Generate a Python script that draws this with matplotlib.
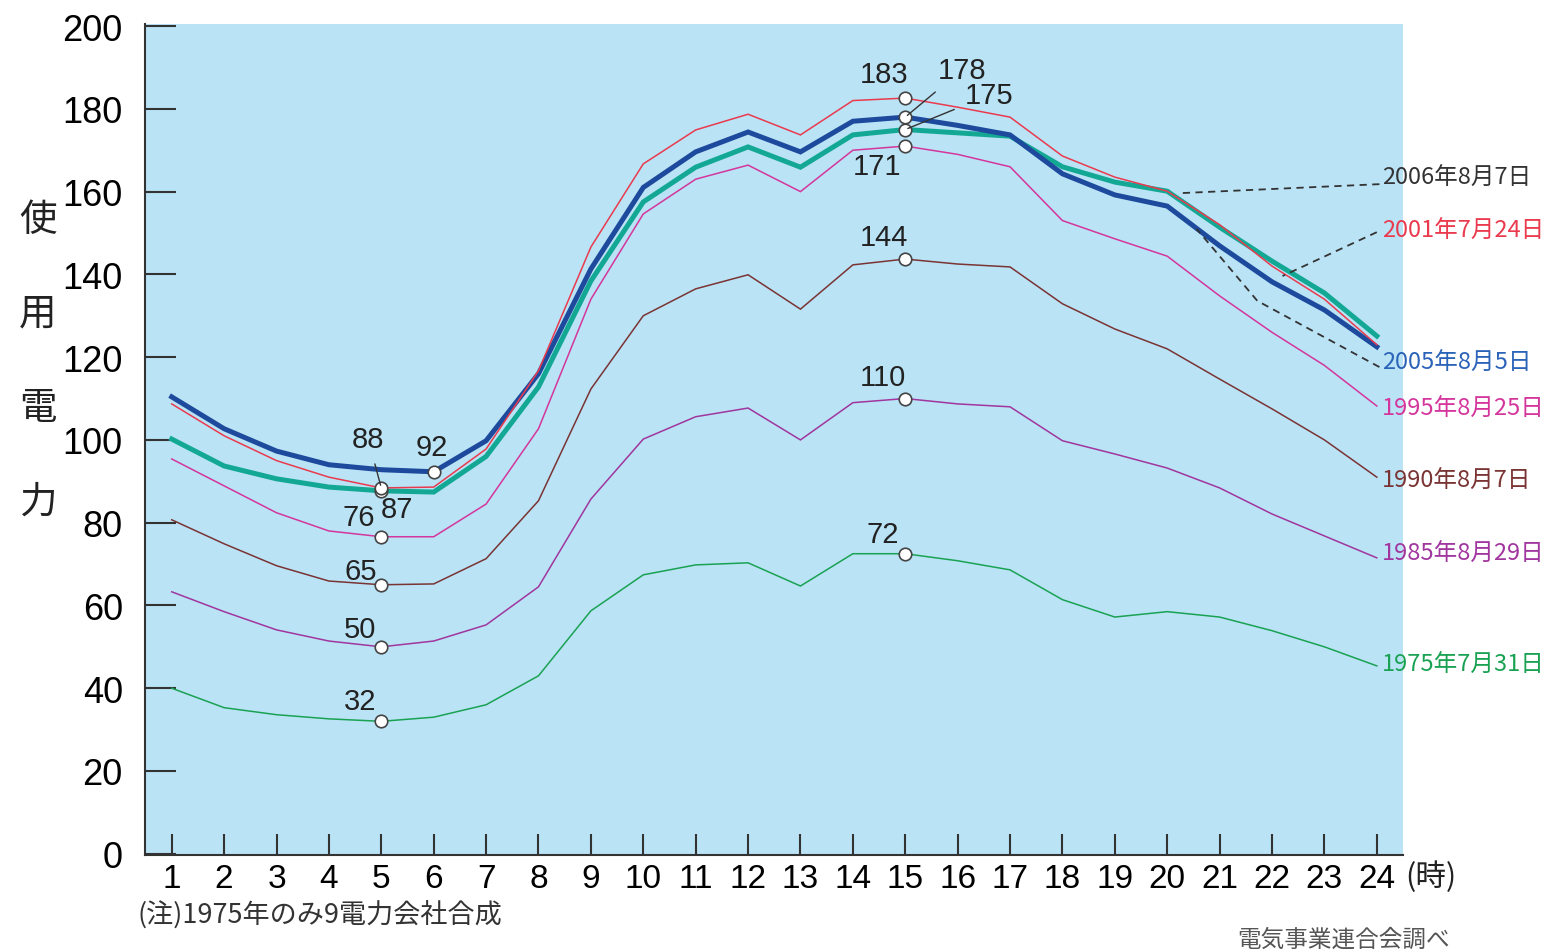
import matplotlib.pyplot as plt

plt.rcParams['font.family'] = ['Liberation Sans', 'Noto Sans CJK JP']

hours = list(range(1, 25))

# hourly load per day
y1975 = [40, 35.3, 33.6, 32.6, 32, 33, 36, 43, 58.7, 67.4, 69.8, 70.3, 64.7, 72.5, 72.5,
         70.8, 68.6, 61.4, 57.2, 58.5, 57.2, 53.9, 50, 45.4]
y1985 = [63.3, 58.5, 54.1, 51.4, 50, 51.4, 55.3, 64.5, 85.7, 100.2, 105.6, 107.7, 100, 109, 110,
         108.7, 108, 99.8, 96.6, 93.2, 88.4, 82.1, 76.8, 71.5]
y1990 = [80.7, 74.9, 69.6, 65.9, 65, 65.2, 71.3, 85.3, 112.3, 130, 136.5, 139.9, 131.6, 142.3, 143.7,
         142.5, 141.8, 132.9, 126.8, 122, 114.7, 107.5, 100, 91]
y1995 = [95.4, 88.9, 82.4, 78, 76.6, 76.6, 84.5, 102.7, 134, 154.6, 163, 166.4, 160, 170, 171,
         169, 166, 153, 148.6, 144.4, 134.8, 126, 118, 108.2]
y2001 = [108.7, 101, 95, 91, 88.4, 88.6, 97.8, 116.7, 146.6, 166.7, 174.9, 178.7, 173.7, 182, 182.6,
         180.4, 178, 168.6, 163.5, 160.1, 152, 142, 134, 123]
y2005 = [110.4, 102.7, 97.3, 94, 92.8, 92.3, 99.8, 116, 141.3, 161, 169.6, 174.4, 169.6, 177, 178,
         176, 173.7, 164.3, 159.2, 156.5, 146.9, 138.2, 131.4, 122.5]
y2006 = [100.2, 93.7, 90.6, 88.6, 87.7, 87.4, 96, 112.8, 138.4, 157.5, 165.9, 170.8, 165.9, 173.7, 175,
         174.2, 173.4, 166, 162.3, 160.1, 151.4, 143.2, 135.5, 125.1]

# (series, colour, width, label, label y)
series = [
    (y1975, '#1aa253', 1.1, '1975年7月31日', 45.7),
    (y1985, '#a0369e', 1.1, '1985年8月29日', 72.5),
    (y1990, '#7a3434', 1.1, '1990年8月7日', 90.3),
    (y1995, '#d4369c', 1.1, '1995年8月25日', 107.5),
    (y2006, '#13a894', 3.6, '2006年8月7日', 163.5),
    (y2005, '#1d4a9c', 3.6, '2005年8月5日', 118.8),
    (y2001, '#ea3a4e', 1.1, '2001年7月24日', 150.7),
]
label_colors = {'2006年8月7日': '#333333', '2005年8月5日': '#2a63b8'}

# marked points: (hour, value, text, text x, text y)
marks = [
    (5, 32, '32', 4.6, 37), (15, 72.5, '72', 14.58, 77.3),
    (5, 50, '50', 4.6, 54.3), (15, 110, '110', 14.58, 115.2),
    (5, 65, '65', 4.6, 68.4), (15, 143.7, '144', 14.6, 149),
    (5, 76.6, '76', 4.57, 81.4), (15, 171, '171', 14.47, 166.2),
    (5, 87.7, '87', 5.3, 83.3), (15, 175, '175', 16.6, 183.3),
    (6, 92.3, '92', 5.97, 98.3), (15, 178, '178', 16.08, 189.4),
    (5, 88.4, '88', 4.75, 100.2), (15, 182.6, '183', 14.6, 188.4),
]
leader_marks = ['88', '178', '175']

fig = plt.figure(figsize=(15.52, 9.53), dpi=100)
ax = fig.add_axes([145 / 1552, 97 / 953, 1258 / 1552, 831 / 953])
ax.set_facecolor('#bae3f6')

for ys, col, lw, lab, ly in series:
    ax.plot(hours, ys, color=col, lw=lw, solid_joinstyle='miter', zorder=3)
    ax.text(24.1, ly, lab, color=label_colors.get(lab, col), fontsize=17,
            family=['Noto Sans CJK JP'], va='center', ha='left', clip_on=False)

for h, v, t, tx, ty in marks:
    ax.plot(h, v, 'o', ms=9, mfc='white', mec='#444444', mew=1.2, zorder=5)
    if t in leader_marks:
        # text sits away from its point, joined by a thin line
        ax.annotate(t, xy=(h, v), xytext=(tx, ty), fontsize=21, color='#222222',
                    ha='center', va='center', zorder=6,
                    arrowprops=dict(arrowstyle='-', color='#333333', lw=1,
                                    shrinkA=6, shrinkB=2))
    else:
        ax.text(tx, ty, t, fontsize=21, color='#222222', ha='center', va='center', zorder=6)

# dashed leaders to the series labels
dash = dict(color='#333333', lw=1.3, ls=(0, (4, 3)), clip_on=False, zorder=4)
ax.plot([24.05, 20.2], [161.8, 159.6], **dash)
ax.plot([24.0, 22.2], [150.2, 139.6], **dash)
ax.plot([24.05, 21.72, 20.56], [117.6, 133.6, 151], **dash)

ax.set_xlim(0.49, 24.5)
ax.set_ylim(-0.3, 200.5)
ax.set_xticks(hours)
ax.set_yticks(range(0, 201, 20))
ax.tick_params(axis='y', direction='in', length=22, width=1.5, color='#333333',
               labelsize=26, pad=16)
ax.tick_params(axis='x', direction='in', length=15, width=1.5, color='#333333',
               labelsize=24, pad=6)
for s in ['top', 'right']:
    ax.spines[s].set_visible(False)
for s in ['left', 'bottom']:
    ax.spines[s].set_linewidth(1.5)
    ax.spines[s].set_color('#333333')

for i, ch in enumerate('使用電力'):
    fig.text(38 / 1552, 1 - (220 + i * 94) / 953, ch, fontsize=27,
             family=['Noto Sans CJK JP'], ha='center', va='center', color='#222222')

fig.text(1405 / 1552, 1 - 877 / 953, '(時)', fontsize=22, family=['Noto Sans CJK JP'],
         ha='left', va='center', color='#222222')
fig.text(137 / 1552, 1 - 916 / 953, '(注)1975年のみ9電力会社合成', fontsize=19.5,
         family=['Noto Sans CJK JP'], ha='left', va='center', color='#333333')
fig.text(1450 / 1552, 1 - 940 / 953, '電気事業連合会調べ', fontsize=17,
         family=['Noto Sans CJK JP'], ha='right', va='center', color='#555555')

fig.savefig('out.png', dpi=100)
